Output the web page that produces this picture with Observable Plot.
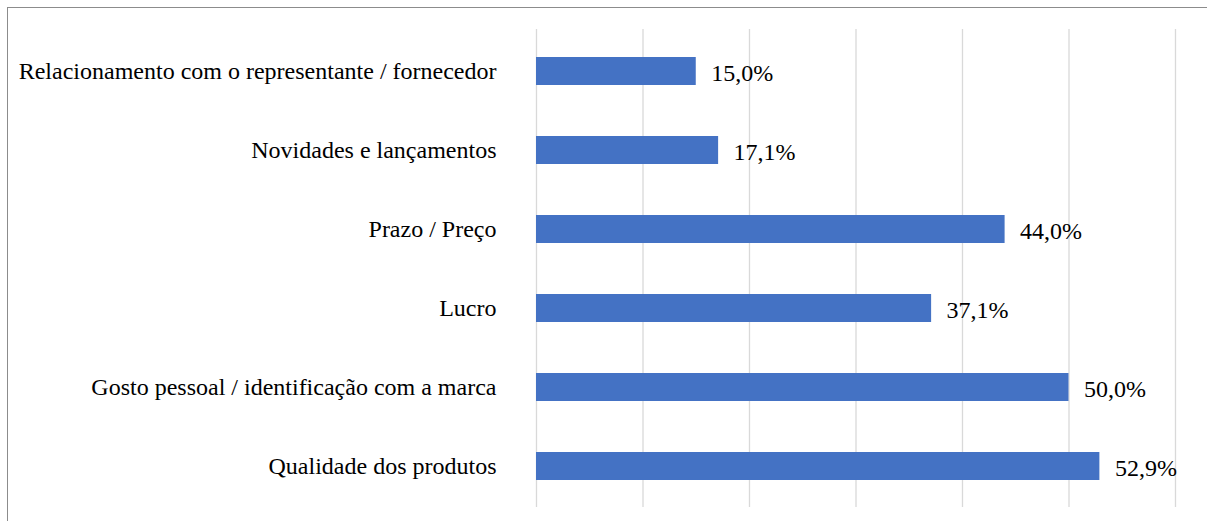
<!DOCTYPE html>
<html>
<head>
<meta charset="utf-8">
<script src="https://cdn.jsdelivr.net/npm/d3@7"></script>
<script src="https://cdn.jsdelivr.net/npm/@observablehq/plot@0.6"></script>
<style>
  html, body { margin: 0; padding: 0; background: #fff; }
  #wrap { position: relative; width: 1207px; height: 521px; overflow: hidden; }
  #border { position: absolute; left: 7px; top: 7px; width: 1300px; height: 600px;
            border-left: 1.5px solid #8c8c8c; border-top: 1.5px solid #8c8c8c; pointer-events: none; }
  svg { display: block; }
  svg text { font-family: "Liberation Serif", "Times New Roman", serif !important; }
</style>
</head>
<body>
<div id="wrap"><div id="border"></div></div>
<script>
const categories = [
  "Relacionamento com o representante / fornecedor",
  "Novidades e lançamentos",
  "Prazo / Preço",
  "Lucro",
  "Gosto pessoal / identificação com a marca",
  "Qualidade dos produtos"
];
const values = [15.0, 17.1, 44.0, 37.1, 50.0, 52.9];
const xTicks = [0, 10, 20, 30, 40, 50, 60];

const data = categories.map((c, i) => ({category: c, value: values[i]}));
const fmt = v => v.toFixed(1).replace(".", ",") + "%";
const serif = "Liberation Serif";

const chart = Plot.plot({
  width: 1207,
  height: 521,
  marginLeft: 536,
  marginRight: 32,
  marginTop: 29,
  marginBottom: 14,
  style: {fontFamily: serif, fontSize: "24px", color: "#000", background: "transparent"},
  x: {domain: [0, 60], ticks: xTicks, axis: null},
  y: {domain: categories, paddingInner: 0.65, paddingOuter: 0.325, label: null},
  marks: [
    Plot.gridX(xTicks, {stroke: "#d9d9d9", strokeOpacity: 1, strokeWidth: 1.3}),
    Plot.barX(data, {x: "value", y: "category", fill: "#4472C4"}),
    Plot.text(data, {x: "value", y: "category", text: d => fmt(d.value), textAnchor: "start", dx: 15, dy: 2, fill: "#000", fontSize: 24, fontFamily: serif}),
    Plot.axisY({tickSize: 0, tickPadding: 40, label: null, fontSize: 24, fill: "#000", fontFamily: serif})
  ]
});
document.getElementById("wrap").insertBefore(chart, document.getElementById("border"));
</script>
</body>
</html>
